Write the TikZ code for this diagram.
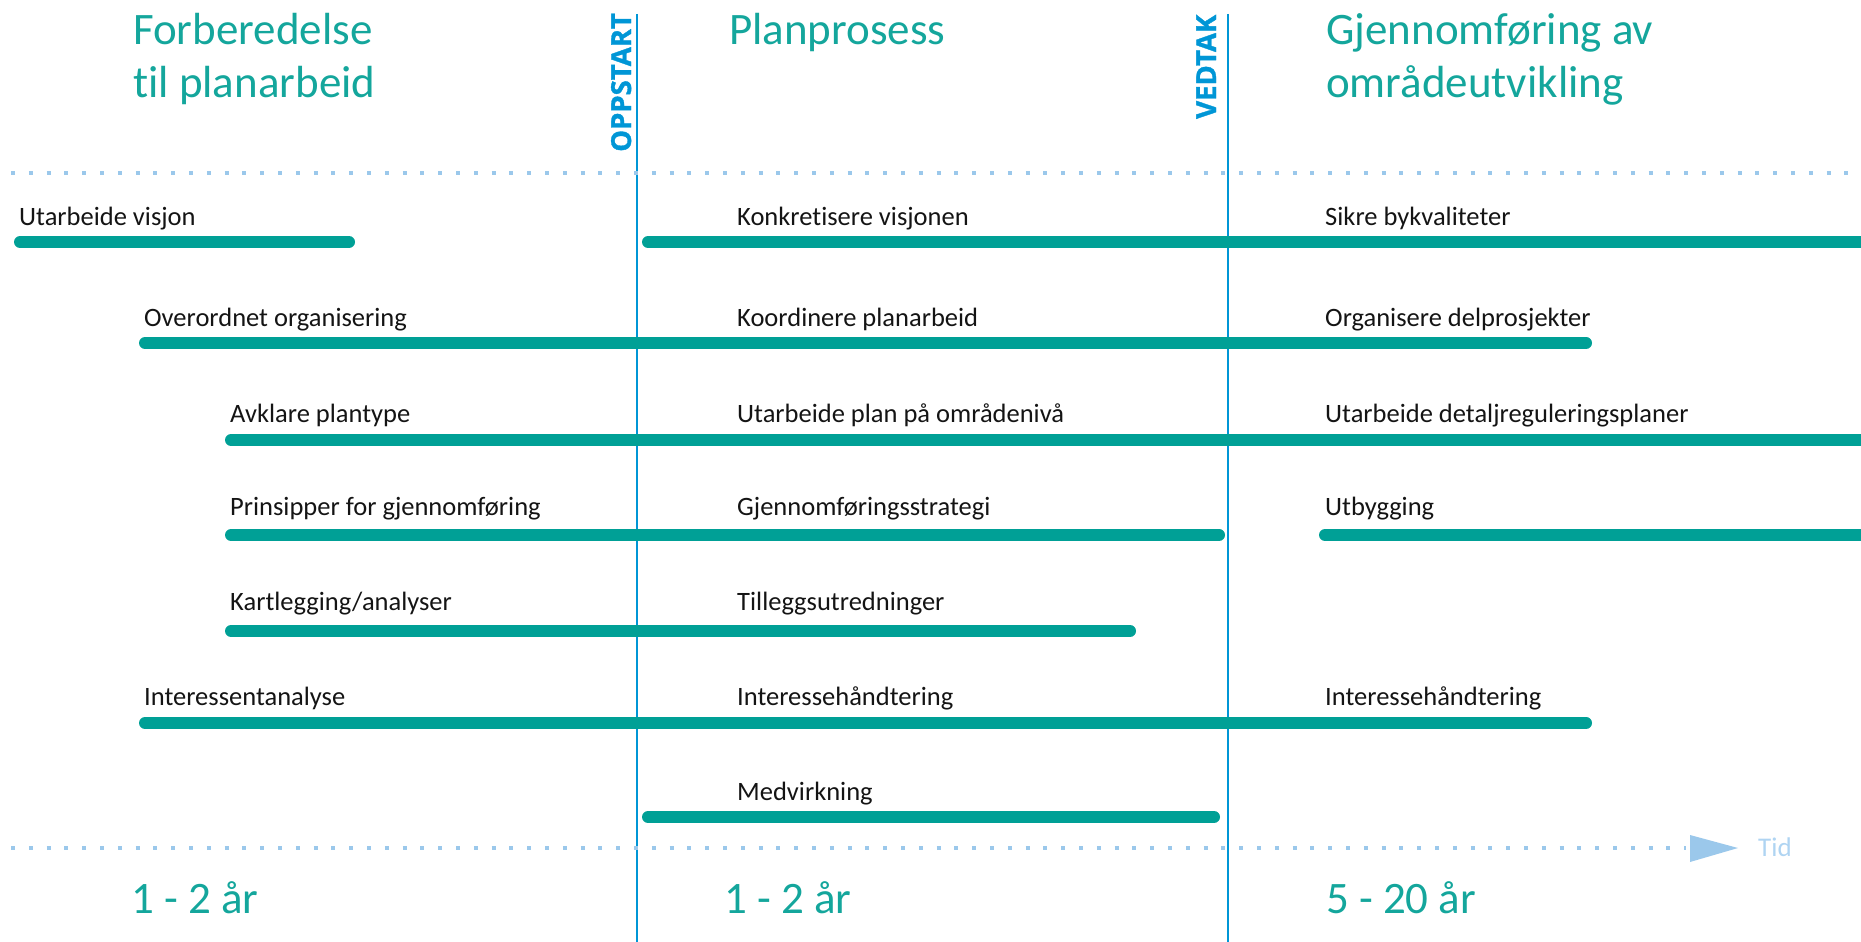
\documentclass[tikz,border=0pt]{standalone}
\usepackage{fontspec}
\setmainfont[Ligatures=NoCommon]{Carlito}
\newfontfamily\msfont[BoldFeatures={FakeBold=1.2}]{Open Sans}
\definecolor{barteal}{RGB}{0,160,150}
\definecolor{headteal}{RGB}{20,166,156}
\definecolor{lineblue}{RGB}{0,150,214}
\definecolor{dotblue}{RGB}{155,200,235}
\definecolor{tidblue}{RGB}{175,212,242}
\definecolor{labelblack}{RGB}{20,20,20}
\tikzset{
  bar/.style={draw=barteal, line width=12pt, line cap=round},
  lbl/.style={anchor=base west, inner sep=0pt, text=labelblack, font=\fontsize{26.5}{30}\selectfont},
  head/.style={anchor=base west, inner sep=0pt, text=headteal, font=\fontsize{45}{50}\selectfont},
  milestone/.style={anchor=base west, inner sep=0pt, rotate=90, text=lineblue, font=\msfont\fontsize{27.5}{30}\selectfont\bfseries},
  vline/.style={draw=lineblue, line width=1.6pt},
  dotline/.style={draw=dotblue, line width=4pt, dash pattern=on 4pt off 13.8pt}
}
\begin{document}
\begin{tikzpicture}[x=1pt, y=-1pt]
\useasboundingbox (0,0) rectangle (1861,942);
\clip (0,0) rectangle (1861,942);
% headings
\node[head] (h1a) at (133,45) {Forberedelse};
\node[head] (h1b) at (133,97) {til planarbeid};
\node[head] (h2a) at (729,45) {Planprosess};
\node[head] (h3a) at (1326,45) {Gjennomføring av};
\node[head] (h3b) at (1326,97) {områdeutvikling};
% milestone lines
\coordinate (oTop) at (637,14); \coordinate (oBot) at (637,942);
\coordinate (vTop) at (1228,14); \coordinate (vBot) at (1228,942);
\draw[vline] (oTop) -- (oBot);
\draw[vline] (vTop) -- (vBot);
\node[milestone] (oppstart) at (631,152) {OPPSTART};
\node[milestone] (vedtak) at (1216,119) {VEDTAK};
% dotted lines
\coordinate (d1a) at (11,173); \coordinate (d1b) at (1861,173);
\draw[dotline] (d1a) -- (d1b);
\coordinate (d2a) at (11,848); \coordinate (d2b) at (1686,848);
\draw[dotline] (d2a) -- (d2b);
\fill[dotblue] (1690,835) -- (1738,848) -- (1690,862) -- cycle;
\node[anchor=base west, inner sep=0pt, text=tidblue, font=\fontsize{27}{30}\selectfont] (tid) at (1758,856) {Tid};
% row 1
\node[lbl] (l11) at (19,225) {Utarbeide visjon};
\node[lbl] (l12) at (737,225) {Konkretisere visjonen};
\node[lbl] (l13) at (1325,225) {Sikre bykvaliteter};
\draw[bar] (20,242) -- (349,242);
\draw[bar] (648,242) -- (1880,242);
% row 2
\node[lbl] (l21) at (144,326) {Overordnet organisering};
\node[lbl] (l22) at (737,326) {Koordinere planarbeid};
\node[lbl] (l23) at (1325,326) {Organisere delprosjekter};
\draw[bar] (145,343) -- (1586,343);
% row 3
\node[lbl] (l31) at (230,422) {Avklare plantype};
\node[lbl] (l32) at (737,422) {Utarbeide plan på områdenivå};
\node[lbl] (l33) at (1325,422) {Utarbeide detaljreguleringsplaner};
\draw[bar] (231,440) -- (1880,440);
% row 4
\node[lbl] (l41) at (230,515) {Prinsipper for gjennomføring};
\node[lbl] (l42) at (737,515) {Gjennomføringsstrategi};
\node[lbl] (l43) at (1325,515) {Utbygging};
\draw[bar] (231,535) -- (1219,535);
\draw[bar] (1325,535) -- (1880,535);
% row 5
\node[lbl] (l51) at (230,610) {Kartlegging/analyser};
\node[lbl] (l52) at (737,610) {Tilleggsutredninger};
\draw[bar] (231,631) -- (1130,631);
% row 6
\node[lbl] (l61) at (144,705) {Interessentanalyse};
\node[lbl] (l62) at (737,705) {Interessehåndtering};
\node[lbl] (l63) at (1325,705) {Interessehåndtering};
\draw[bar] (145,723) -- (1586,723);
% row 7
\node[lbl] (l72) at (737,800) {Medvirkning};
\draw[bar] (648,817) -- (1214,817);
% durations
\node[head] (y1) at (131,913) {1 - 2 år};
\node[head] (y2) at (724,913) {1 - 2 år};
\node[head] (y3) at (1326,913) {5 - 20 år};
\end{tikzpicture}
\end{document}
